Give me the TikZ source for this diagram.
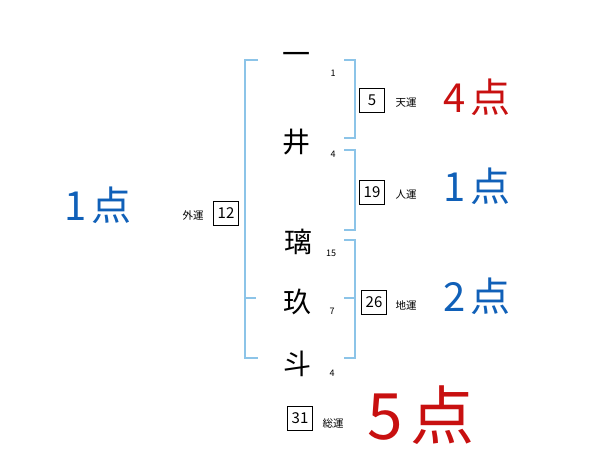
\documentclass[tikz,border=0pt]{standalone}
\usepackage{fontspec}
\newfontfamily\jp{Noto Sans CJK JP}
\definecolor{brk}{RGB}{140,196,232}
\definecolor{redpt}{RGB}{200,16,16}
\definecolor{bluept}{RGB}{16,96,184}
\begin{document}
\begin{tikzpicture}[x=1pt,y=-1pt,
  kanji/.style={font=\jp\fontsize{28}{28}\selectfont, inner sep=0pt},
  strk/.style={font=\jp\fontsize{9}{9}\selectfont, inner sep=0pt},
  numbox/.style={draw, line width=0.8pt, minimum width=25pt, minimum height=24pt, inner sep=0pt, font=\jp\fontsize{15}{15}\selectfont},
  lbl/.style={font=\jp\fontsize{10.5}{10.5}\selectfont, inner sep=0pt},
  pts/.style={font=\jp\fontsize{40}{40}\selectfont, inner sep=0pt},
  brkline/.style={draw=brk, line width=1.3pt}]
\useasboundingbox (0,0) rectangle (600,470);
% characters
\node[kanji] (c1) at (296,58) {一};
\node[kanji] (c2) at (296,142) {井};
\node[kanji] (c3) at (298,242) {璃};
\node[kanji] (c4) at (297,302) {玖};
\node[kanji] (c5) at (297,364) {斗};
\node[strk] (s1) at (333,73) {1};
\node[strk] (s2) at (333,154) {4};
\node[strk] (s3) at (331,253) {15};
\node[strk] (s4) at (332,311) {7};
\node[strk] (s5) at (332,373) {4};
% left bracket
\coordinate (lt) at (245,60);
\coordinate (lb) at (245,358);
\draw[brkline] (258,60) -- (lt) -- (lb) -- (258,358);
\draw[brkline] (245,298) -- (256,298);
% right brackets
\draw[brkline] (344,60) -- (355,60) -- (355,138) -- (344,138);
\draw[brkline] (344,150) -- (355,150) -- (355,230) -- (344,230);
\draw[brkline] (344,240) -- (355,240) -- (355,358) -- (344,358);
\draw[brkline] (344,298) -- (355,298);
% boxes
\node[numbox] (b5) at (372,100) {5};
\node[lbl] (l5) at (406,103) {天運};
\node[pts, text=redpt] (p5) at (477,97) {4\hspace{5pt}点};
\node[numbox] (b19) at (372,192) {19};
\node[lbl] (l19) at (406,195) {人運};
\node[pts, text=bluept] (p19) at (477,186) {1\hspace{5pt}点};
\node[numbox] (b26) at (374,302) {26};
\node[lbl] (l26) at (406,305) {地運};
\node[pts, text=bluept] (p26) at (477,296) {2\hspace{5pt}点};
\node[numbox] (b12) at (226,213) {12};
\node[lbl] (l12) at (193,215) {外運};
\node[pts, text=bluept] (p12) at (98,205) {1\hspace{5pt}点};
\node[numbox] (b31) at (300,418) {31};
\node[lbl] (l31) at (333,423) {総運};
\node[font=\jp\fontsize{64}{64}\selectfont, inner sep=0pt, text=redpt] (p31) at (421,415) {5\hspace{8pt}点};
\end{tikzpicture}
\end{document}
